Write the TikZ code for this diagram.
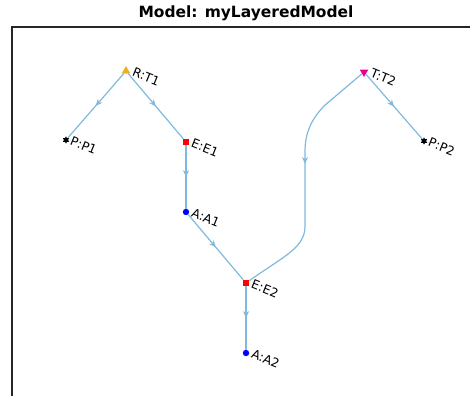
\documentclass[tikz,border=0pt]{standalone}
\usepackage{fontspec}
\setmainfont{DejaVu Sans}
\usepackage{tikz}
\usepackage{xcolor}
\usetikzlibrary{shapes.geometric,arrows.meta,decorations.markings}

\definecolor{edgeblue}{RGB}{128,185,222}
\definecolor{axisgray}{RGB}{38,38,38}
\definecolor{trigold}{RGB}{237,177,32}

\tikzset{
  edge/.style={draw=edgeblue, line width=0.9pt, postaction={decorate},
    decoration={markings, mark=at position #1 with {\arrow{Stealth[length=5pt,width=4.5pt,inset=1.5pt]}}}},
  edge/.default=0.5,
  lbl/.style={font=\fontsize{9.3}{11}\selectfont, rotate=-22, anchor=west, inner sep=1pt},
  upmark/.style={regular polygon, regular polygon sides=3, fill=trigold, inner sep=0pt, minimum size=7.5pt},
  downmark/.style={regular polygon, regular polygon sides=3, shape border rotate=180, fill=magenta, inner sep=0pt, minimum size=7.5pt},
  sqmark/.style={rectangle, fill=red, inner sep=0pt, minimum size=4.5pt},
  dotmark/.style={circle, fill=blue, inner sep=0pt, minimum size=4.8pt},
  starmark/.style={star, star points=6, star point ratio=1.8, fill=black, inner sep=0pt, minimum size=5.5pt}
}

\begin{document}
\begin{tikzpicture}[x=0.75pt, y=-0.75pt]
\useasboundingbox (0,0) rectangle (470,396);
\node[font=\bfseries\fontsize{11.6}{13}\selectfont] (title) at (246,13) {Model: myLayeredModel};
\draw[axisgray, line width=0.8pt] (470,27) -- (12,27) -- (12,396);

\node[upmark] (rt1) at (126,71) {};
\node[starmark] (pp1) at (66,140) {};
\node[sqmark] (ee1) at (186,142) {};
\node[dotmark] (aa1) at (186,212) {};
\node[sqmark] (ee2) at (246,283) {};
\node[dotmark] (aa2) at (246,353) {};
\node[downmark] (tt2) at (364,72) {};
\node[starmark] (pp2) at (424,141) {};

\node[lbl] at ([xshift=2pt]rt1.east) {R:T1};
\node[lbl] at ([xshift=1pt]pp1.east) {P:P1};
\node[lbl] at ([xshift=1pt]ee1.east) {E:E1};
\node[lbl] at ([xshift=1pt]aa1.east) {A:A1};
\node[lbl] at ([xshift=1pt]ee2.east) {E:E2};
\node[lbl] at ([xshift=1pt]aa2.east) {A:A2};
\node[lbl] at ([xshift=2pt]tt2.east) {T:T2};
\node[lbl] at ([xshift=1pt]pp2.east) {P:P2};

\draw[edge] (rt1) -- (pp1);
\draw[edge] (rt1) -- (ee1);
\draw[edge] (ee1) -- (aa1);
\draw[edge] (aa1) -- (ee2);
\draw[edge] (ee2) -- (aa2);
\draw[edge] (tt2) -- (pp2);
\draw[edge=0.44] (tt2) -- (324,106) .. controls (310,121) and (305,134) .. (305,152) -- (305,226) .. controls (305,248) and (284,256) .. (ee2);
\end{tikzpicture}
\end{document}
